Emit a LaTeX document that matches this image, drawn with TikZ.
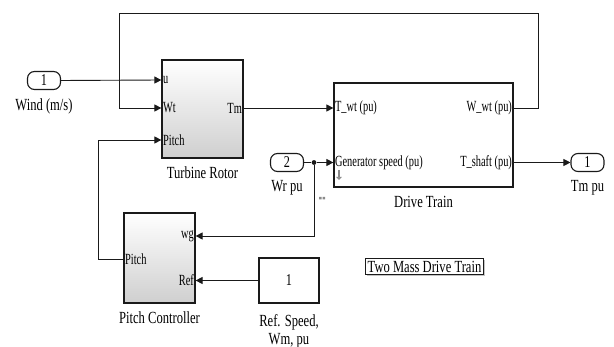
\documentclass[tikz,border=0pt]{standalone}
\usepackage{fontspec}
\setmainfont{Liberation Serif}[FakeStretch=0.74]
\newfontfamily\portfont{Liberation Serif}[FakeStretch=0.67]
\usetikzlibrary{arrows.meta,positioning,shadows}
\definecolor{simink}{HTML}{1A1A1A}
\definecolor{shadegray}{HTML}{CFCFCF}
\definecolor{markgray}{HTML}{8A8A8A}
\tikzset{
  blk/.style    ={draw=simink,line width=1.2pt,fill=white,inner sep=0pt},
  subsys/.style ={blk,top color=white,bottom color=shadegray},
  iport/.style  ={draw=simink,line width=1.1pt,rounded corners=7pt,fill=white,
                  minimum width=33pt,minimum height=18pt,inner sep=0pt,
                  font=\fontsize{16.5}{18}\selectfont},
  portlbl/.style={inner sep=1.5pt,font=\portfont\fontsize{15.5}{17}\selectfont},
  blkname/.style={inner sep=0pt,align=center,font=\fontsize{17}{18}\selectfont},
  sig/.style    ={-{Triangle[length=7pt,width=7pt]},line width=0.9pt,draw=simink},
  wire/.style   ={line width=0.9pt,draw=simink}
}
\begin{document}
\begin{tikzpicture}[x=1pt,y=-1pt,node distance=8pt]
  \useasboundingbox (0,0) rectangle (614,347);
  % subsystems
  \node[subsys,minimum width=81pt,minimum height=98pt] (rotor) at (202.5,109) {};
  \node[blkname,below=of rotor] (rotorlbl) {Turbine Rotor};
  \node[blk,minimum width=179pt,minimum height=104pt] (train) at (423.5,135) {};
  \node[blkname,below=of train] (trainlbl) {Drive Train};
  \node[subsys,minimum width=71pt,minimum height=90pt] (pc) at (159.5,258) {};
  \node[blkname,below=of pc] (pclbl) {Pitch Controller};
  \node[blk,minimum width=60pt,minimum height=45pt,
        font=\fontsize{16.5}{18}\selectfont] (refspd) at (289,280.5) {1};
  \node[blkname,below=11pt of refspd] (refspdlbl) {Ref. Speed,\\Wm, pu};
  % in/out ports
  \node[iport] (wind) at (44,80.5) {1};
  \node[blkname,below=of wind] (windlbl) {Wind (m/s)};
  \node[iport] (wr) at (287,162.5) {2};
  \node[blkname,below=of wr] (wrlbl) {Wr pu};
  \node[iport] (tmout) at (587.5,162.5) {1};
  \node[blkname,below=of tmout] (tmoutlbl) {Tm pu};
  % port labels
  \node[portlbl,anchor=west] (rotor-u) at (rotor.west |- 0,80) {u};
  \node[portlbl,anchor=west] (rotor-wt) at (rotor.west |- 0,108) {Wt};
  \node[portlbl,anchor=west] (rotor-pitch) at (rotor.west |- 0,140) {Pitch};
  \node[portlbl,anchor=east] (rotor-tm) at (rotor.east |- 0,108) {Tm};
  \node[portlbl,anchor=west] (train-twt) at (train.west |- 0,108) {T\_wt (pu)};
  \node[portlbl,anchor=west] (train-gen) at (train.west |- 0,162.5) {Generator speed (pu)};
  \node[portlbl,anchor=east] (train-wwt) at (train.east |- 0,108) {W\_wt (pu)};
  \node[portlbl,anchor=east] (train-tsh) at (train.east |- 0,162.5) {T\_shaft (pu)};
  \node[portlbl,anchor=east] (pc-wg) at (pc.east |- 0,236) {wg};
  \node[portlbl,anchor=west] (pc-pitch) at (pc.west |- 0,259) {Pitch};
  \node[portlbl,anchor=east] (pc-ref) at (pc.east |- 0,280.5) {Ref};
  % annotation
  \node[draw=simink,line width=0.8pt,fill=white,inner sep=2pt,
        drop shadow={shadow xshift=1.5pt,shadow yshift=-1.5pt,fill=markgray},
        font=\fontsize{17}{18}\selectfont] (note) at (424.5,266.5) {Two Mass Drive Train};
  % signals
  \node[circle,fill=simink,inner sep=1.7pt] (jn) at (314,162.5) {};
  \coordinate (fbtop) at (538,13);
  \coordinate (fbleft) at (119,13);
  \coordinate (pbend) at (98,140);
  \draw[sig] (wind.east) -- (rotor.west |- rotor-u);
  \draw[sig] (rotor.east |- rotor-tm) -- (train.west |- train-twt);
  \draw[sig] (train.east |- train-wwt) -| (fbtop) -- (fbleft) |- (rotor.west |- rotor-wt);
  \draw[wire] (wr.east) -- (jn);
  \draw[sig] (jn) -- (train.west |- train-gen);
  \draw[sig] (jn) |- (pc.east |- pc-wg);
  \draw[sig] (pc.west |- pc-pitch) -| (pbend) -- (rotor.west |- rotor-pitch);
  \draw[sig] (refspd.west) -- (pc.east |- pc-ref);
  \draw[sig] (train.east |- train-tsh) -- (tmout.west);
  % small marks
  \fill[markgray] (319,197) rectangle ++(2.5,2.5) (322.5,197) rectangle ++(2.5,2.5);
  \draw[markgray,line width=2pt,-{Triangle[length=3pt,width=5.5pt]}] (339,170) -- (339,180);
\end{tikzpicture}
\end{document}
